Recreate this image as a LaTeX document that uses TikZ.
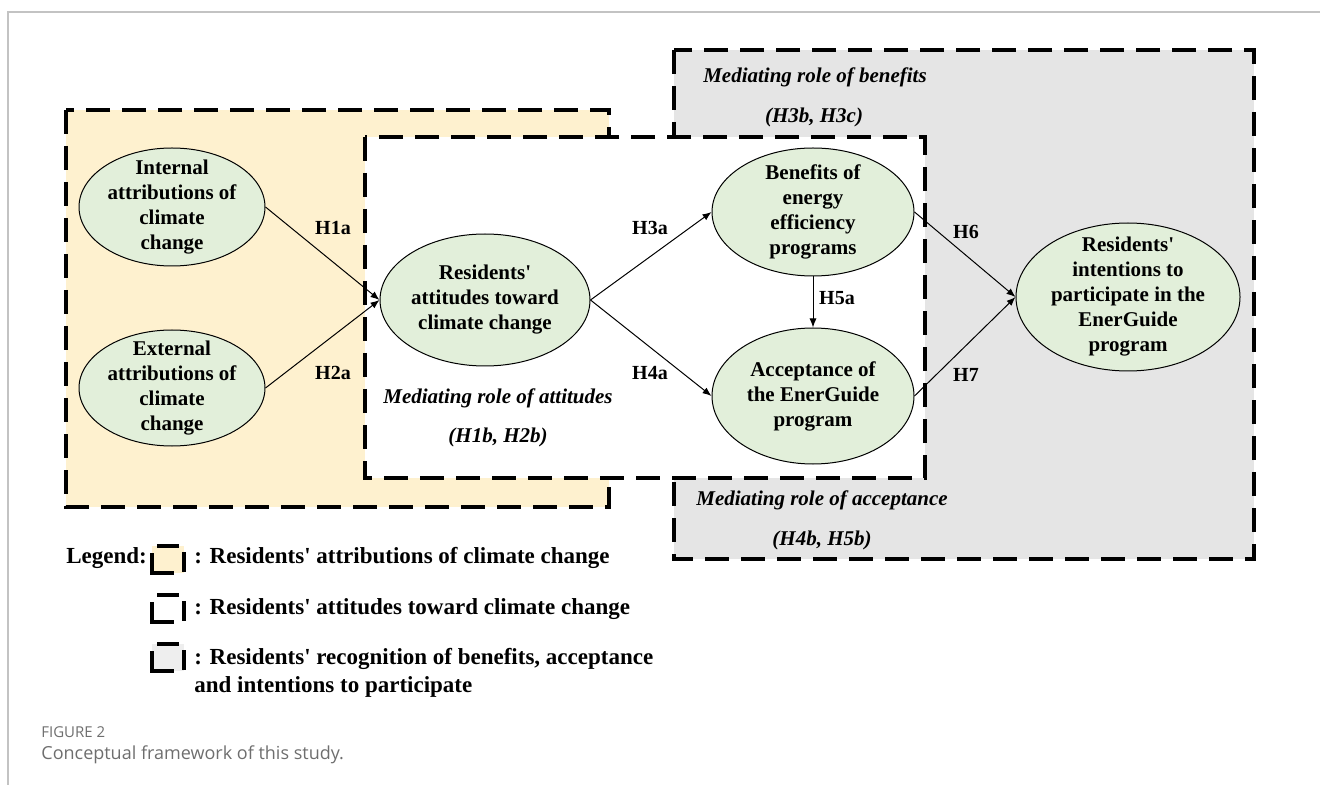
\documentclass[tikz,border=0pt]{standalone}
\usepackage{fontspec}
\setmainfont{Liberation Serif}
\newfontfamily\capfont{Open Sans}
\usetikzlibrary{shapes.geometric,arrows.meta}
\newcommand{\sq}{\textquotesingle}
\definecolor{yel}{RGB}{254,241,207}
\definecolor{gry}{RGB}{229,229,229}
\definecolor{grn}{RGB}{226,239,218}
\definecolor{lgry}{RGB}{238,238,238}
\definecolor{frm}{RGB}{195,195,195}
\definecolor{captxt}{RGB}{110,110,110}
\begin{document}
\begin{tikzpicture}[x=0.5pt,y=-0.5pt,
  region/.style={draw=black,line width=1.6pt,dash pattern=on 12pt off 6pt},
  construct/.style={ellipse,draw=black,fill=grn,line width=0.5pt,inner sep=0pt},
  ctext/.style={font=\fontsize{10.5}{12.5}\selectfont\bfseries,align=center,inner sep=0pt},
  hyp/.style={font=\fontsize{10}{12}\selectfont\bfseries,inner sep=0pt},
  med/.style={font=\fontsize{10.5}{12.5}\selectfont\bfseries\itshape,inner sep=0pt},
  link/.style={-{Latex[length=4.5pt,width=3.5pt]},line width=0.5pt},
  legtext/.style={font=\fontsize{11.5}{14}\selectfont\bfseries,inner sep=0pt,anchor=west,align=left},
  legbar/.style={line width=1.6pt},
  ]
\useasboundingbox (0,0) rectangle (1320,785);
\draw[frm,line width=0.75pt] (8,785) -- (8,12) -- (1320,12);
% regions
\draw[region,fill=yel] (66,110) rectangle (609,507);
\draw[region,fill=gry] (674,50) rectangle (1254,559);
\draw[region,fill=white] (365,137) rectangle (925,478);
% constructs
\node[construct,minimum width=93pt,minimum height=59pt] (int) at (172,207) {};
\node[ctext] (intT) at (int.center) {Internal\\attributions of\\climate\\change};
\node[construct,minimum width=93pt,minimum height=58pt] (ext) at (172,388) {};
\node[ctext] (extT) at (ext.center) {External\\attributions of\\climate\\change};
\node[construct,minimum width=105pt,minimum height=66pt] (att) at (485,300) {};
\node[ctext] (attT) at (att.center) {Residents\sq\\attitudes toward\\climate change};
\node[construct,minimum width=101pt,minimum height=64pt] (ben) at (813,212) {};
\node[ctext] (benT) at (ben.center) {Benefits of\\energy\\efficiency\\programs};
\node[construct,minimum width=101pt,minimum height=68pt] (acc) at (813,396) {};
\node[ctext] (accT) at (acc.center) {Acceptance of\\the EnerGuide\\program};
\node[construct,minimum width=112pt,minimum height=74pt] (int2) at (1128,297) {};
\node[ctext] (int2T) at (int2.center) {Residents\sq\\intentions to\\participate in the\\EnerGuide\\program};
% links
\draw[link] (int.east) -- (att.west);
\draw[link] (ext.east) -- (att.west);
\draw[link] (att.east) -- (ben.west);
\draw[link] (att.east) -- (acc.west);
\draw[link] (ben.south) -- (acc.north);
\draw[link] (ben.east) -- (int2.west);
\draw[link] (acc.east) -- (int2.west);
% hypothesis labels
\node[hyp] (h1a) at (333,228) {H1a};
\node[hyp] (h2a) at (333,373) {H2a};
\node[hyp] (h3a) at (650,228) {H3a};
\node[hyp] (h4a) at (650,373) {H4a};
\node[hyp] (h5a) at (837,298) {H5a};
\node[hyp] (h6) at (966,232) {H6};
\node[hyp] (h7) at (966,375) {H7};
% mediating texts
\node[med] (mb) at (815,77) {Mediating role of benefits};
\node[med] (mbh) at (814,117) {(H3b, H3c)};
\node[med] (ma) at (498,398) {Mediating role of attitudes};
\node[med] (mah) at (498,437) {(H1b, H2b)};
\node[med] (mc) at (822,500) {Mediating role of acceptance};
\node[med] (mch) at (822,540) {(H4b, H5b)};
% legend
\node[legtext] (leg) at (66,558) {Legend:};
\fill[yel] (152,546) rectangle (184,573);
\draw[legbar] (157,546) -- (179,546);
\draw[legbar] (152,553) -- (152,573) -- (174,573);
\draw[legbar] (184,552) -- (184,572);
\node[legtext] (l1) at (194,558) {: Residents\sq{} attributions of climate change};
\fill[white] (152,595) rectangle (184,622);
\draw[legbar] (157,595) -- (179,595);
\draw[legbar] (152,602) -- (152,622) -- (174,622);
\draw[legbar] (184,601) -- (184,621);
\node[legtext] (l2) at (194,609) {: Residents\sq{} attitudes toward climate change};
\fill[lgry] (152,644) rectangle (184,671);
\draw[legbar] (157,644) -- (179,644);
\draw[legbar] (152,651) -- (152,671) -- (174,671);
\draw[legbar] (184,650) -- (184,670);
\node[legtext] (l3) at (194,673) {: Residents\sq{} recognition of benefits, acceptance\\and intentions to participate};
% caption
\node[anchor=west,inner sep=0pt,text=captxt,font=\capfont\fontsize{7.5}{9}\selectfont] (fig) at (41,732) {FIGURE 2};
\node[anchor=west,inner sep=0pt,text=captxt,font=\capfont\fontsize{9}{11}\selectfont] (cap) at (41,755) {Conceptual framework of this study.};
\end{tikzpicture}
\end{document}
